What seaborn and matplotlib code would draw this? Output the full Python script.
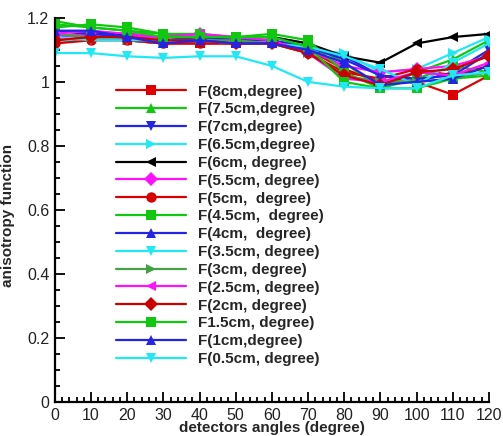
import pandas as pd
import matplotlib
matplotlib.use("Agg")
import matplotlib.pyplot as plt
from matplotlib.ticker import MultipleLocator, FuncFormatter
import seaborn as sns

# angles des détecteurs
angles = [0, 10, 20, 30, 40, 50, 60, 70, 80, 90, 100, 110, 120]

# valeurs
f8 = [1.13, 1.14, 1.13, 1.12, 1.12, 1.12, 1.12, 1.10, 1.04, 1.00, 1.00, 0.96, 1.02]
f7_5 = [1.19, 1.17, 1.16, 1.15, 1.14, 1.14, 1.14, 1.12, 1.06, 0.98, 1.03, 1.07, 1.13]
f7 = [1.15, 1.14, 1.13, 1.12, 1.13, 1.12, 1.12, 1.10, 1.08, 1.02, 1.00, 1.03, 1.10]
f6_5 = [1.12, 1.14, 1.13, 1.12, 1.13, 1.13, 1.12, 1.10, 1.09, 1.03, 1.04, 1.09, 1.14]
f6 = [1.16, 1.15, 1.15, 1.14, 1.14, 1.14, 1.14, 1.12, 1.08, 1.06, 1.12, 1.14, 1.15]
f5_5 = [1.14, 1.15, 1.14, 1.14, 1.15, 1.13, 1.13, 1.10, 1.05, 1.03, 1.04, 1.05, 1.08]
f5 = [1.12, 1.13, 1.13, 1.12, 1.12, 1.12, 1.12, 1.09, 1.03, 1.01, 1.04, 1.02, 1.05]
f4_5 = [1.17, 1.18, 1.17, 1.15, 1.15, 1.14, 1.15, 1.13, 1.03, 0.98, 1.01, 1.05, 1.03]
f4 = [1.16, 1.15, 1.14, 1.13, 1.14, 1.13, 1.13, 1.11, 1.07, 1.02, 1.01, 1.02, 1.09]
f3_5 = [1.14, 1.13, 1.13, 1.13, 1.13, 1.12, 1.12, 1.11, 1.08, 1.04, 0.99, 1.06, 1.12]
f3 = [1.15, 1.14, 1.14, 1.13, 1.13, 1.13, 1.12, 1.09, 1.02, 1.00, 1.00, 1.01, 1.03]
f2_5 = [1.15, 1.16, 1.15, 1.14, 1.15, 1.14, 1.13, 1.09, 1.01, 1.00, 1.03, 1.02, 1.06]
f2 = [1.13, 1.14, 1.14, 1.13, 1.13, 1.12, 1.12, 1.09, 1.02, 0.99, 1.03, 1.04, 1.08]
f1_5 = [1.18, 1.17, 1.16, 1.14, 1.14, 1.14, 1.14, 1.11, 1.00, 0.98, 0.98, 1.01, 1.02]
f1 = [1.16, 1.16, 1.14, 1.12, 1.13, 1.12, 1.12, 1.10, 1.06, 0.99, 1.00, 1.01, 1.05]
f0_5 = [1.09, 1.09, 1.08, 1.075, 1.08, 1.08, 1.05, 1.00, 0.985, 0.98, 0.98, 1.02, 1.03]

labels = ["F(8cm,degree)", "F(7.5cm,degree)", "F(7cm,degree)", "F(6.5cm,degree)",
          "F(6cm, degree)", "F(5.5cm, degree)", "F(5cm,  degree)", "F(4.5cm,  degree)",
          "F(4cm,  degree)", "F(3.5cm, degree)", "F(3cm, degree)", "F(2.5cm, degree)",
          "F(2cm, degree)", "F1.5cm, degree)", "F(1cm,degree)", "F(0.5cm, degree)"]
series = [f8, f7_5, f7, f6_5, f6, f5_5, f5, f4_5, f4, f3_5, f3, f2_5, f2, f1_5, f1, f0_5]

colors = ["#e00000", "#10c810", "#2424e6", "#20e8f4", "#000000", "#ff10ff", "#d80000", "#10c810",
          "#2424e6", "#20e8f4", "#46a046", "#ff10ff", "#cc0000", "#10c810", "#2424e6", "#20e8f4"]
markers = ["s", "^", "v", ">", "<", "D", "o", "s", "^", "v", ">", "<", "D", "s", "^", "v"]

# dataframe long format
rows = []
for lab, vals in zip(labels, series):
    for a, v in zip(angles, vals):
        rows.append({"angle": a, "F": v, "serie": lab})
df = pd.DataFrame(rows)

sns.set_style("ticks")
plt.rcParams["font.family"] = ["Liberation Sans", "DejaVu Sans"]

fig, ax = plt.subplots(figsize=(5.03, 4.36), dpi=100)
fig.subplots_adjust(left=0.109, right=0.972, bottom=0.078, top=0.959)

sns.lineplot(
    data=df, x="angle", y="F", hue="serie", style="serie",
    hue_order=labels, style_order=labels,
    palette=dict(zip(labels, colors)), markers=dict(zip(labels, markers)),
    dashes=False, linewidth=1.6, markersize=7.5, markeredgewidth=0,
    sort=False, ax=ax,
)

ax.set_xlim(0, 120)
ax.set_ylim(0, 1.2)
ax.xaxis.set_major_locator(MultipleLocator(10))
ax.xaxis.set_minor_locator(MultipleLocator(2))
ax.yaxis.set_major_locator(MultipleLocator(0.2))
ax.yaxis.set_minor_locator(MultipleLocator(0.05))
ax.yaxis.set_major_formatter(FuncFormatter(lambda v, p: "%g" % round(v, 2)))
ax.tick_params(which="both", direction="in", width=1.3, labelsize=11.5, colors="black",
               labelcolor="#222222")
ax.tick_params(which="major", length=7, pad=4)
ax.tick_params(which="minor", length=3.5)
for s in ["left", "bottom"]:
    ax.spines[s].set_linewidth(1.6)
    ax.spines[s].set_color("black")
sns.despine(ax=ax)

ax.set_xlabel("detectors angles (degree)", fontsize=11, fontweight="bold", labelpad=-1)
ax.set_ylabel("anisotropy function", fontsize=11, fontweight="bold")
ax.yaxis.set_label_coords(-0.092, 0.485)

handles, labs = ax.get_legend_handles_labels()
ax.legend(handles, labs, loc="upper left", bbox_to_anchor=(0.127, 0.842), frameon=False,
          prop={"weight": "bold", "size": 11}, handlelength=4.6, labelspacing=0.25,
          handletextpad=0.75, borderaxespad=0)

fig.savefig("out.png", dpi=100)
